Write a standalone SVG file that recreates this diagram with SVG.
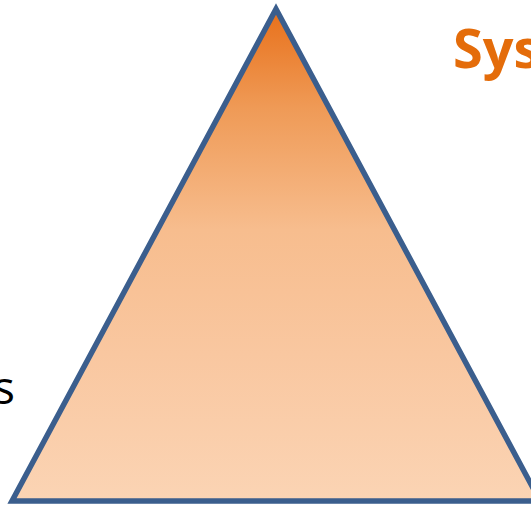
<svg xmlns="http://www.w3.org/2000/svg" width="531" height="505" viewBox="0 0 531 505">
<defs>
<linearGradient id="g" x1="0" y1="9" x2="0" y2="501" gradientUnits="userSpaceOnUse">
<stop offset="0" stop-color="#e8701a"/>
<stop offset="0.2" stop-color="#ef9a56"/>
<stop offset="0.45" stop-color="#f7bd8e"/>
<stop offset="0.7" stop-color="#f9c7a0"/>
<stop offset="1" stop-color="#fbd4b4"/>
</linearGradient>
<style>
.lbl{font-family:"Open Sans","Noto Sans",sans-serif}
</style>
</defs>
<rect width="531" height="505" fill="#ffffff"/>
<g id="triangle">
<polygon points="276,9 12,501 540,501" fill="url(#g)" stroke="#3b5e8d" stroke-width="5.5" stroke-linejoin="miter"/>
</g>
<g id="connectors"/>
<g id="title">
<text class="lbl" x="453" y="68" font-size="54" font-weight="bold" fill="#e46c0a">Sys</text>
</g>
<g id="left-label">
<text class="lbl" x="15" y="404" font-size="46" fill="#000000" text-anchor="end">s</text>
</g>
</svg>
